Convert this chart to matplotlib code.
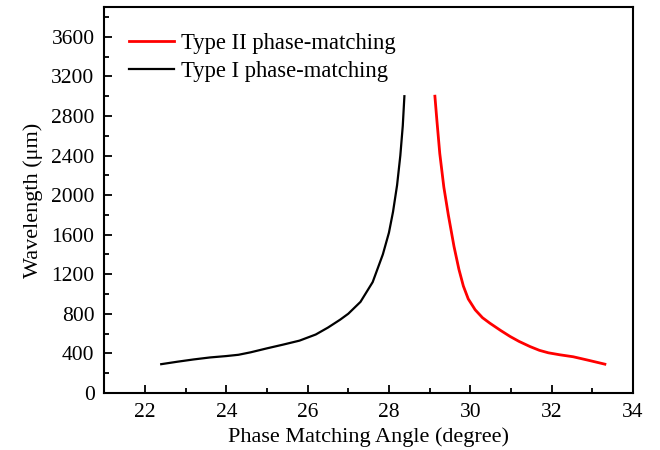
import matplotlib
matplotlib.use("Agg")
import matplotlib.pyplot as plt
from matplotlib.ticker import MultipleLocator

type1_angle = [22.4, 22.8, 23.2, 23.6, 24.0, 24.3, 24.6, 25.0, 25.4, 25.8, 26.2, 26.5,
               26.8, 27.0, 27.3, 27.6, 27.85, 28.0, 28.1, 28.2, 28.28, 28.34, 28.38]
type1_wl = [290, 315, 338, 358, 372, 385, 410, 450, 488, 528, 590, 660,
            740, 800, 920, 1120, 1400, 1620, 1830, 2100, 2400, 2700, 3000]

type2_angle = [29.13, 29.18, 29.25, 29.35, 29.46, 29.6, 29.72, 29.83, 29.95, 30.12, 30.3,
               30.48, 30.75, 30.98, 31.2, 31.47, 31.7, 31.92, 32.2, 32.53, 32.9, 33.31]
type2_wl = [3000, 2750, 2420, 2080, 1800, 1480, 1250, 1080, 950, 840, 760,
            705, 630, 570, 520, 468, 430, 405, 385, 365, 330, 290]

plt.rcParams['font.family'] = ['Liberation Serif', 'DejaVu Serif']

fig = plt.figure(figsize=(6.6, 4.5), dpi=100)
ax = fig.add_axes([0.158, 0.127, 0.801, 0.857])

ax.plot(type2_angle, type2_wl, color='#ff0000', lw=2.0, label='Type II phase-matching')
ax.plot(type1_angle, type1_wl, color='black', lw=1.6, label='Type I phase-matching')

ax.set_xlim(21, 34)
ax.set_ylim(0, 3900)
ax.xaxis.set_major_locator(MultipleLocator(2))
ax.xaxis.set_minor_locator(MultipleLocator(1))
ax.yaxis.set_major_locator(MultipleLocator(400))
ax.yaxis.set_minor_locator(MultipleLocator(200))
ax.tick_params(which='both', direction='in', labelsize=15.5, width=1.3)
ax.tick_params(axis='x', which='both', pad=7)
ax.tick_params(axis='y', which='both', pad=7)
ax.tick_params(which='major', length=6)
ax.tick_params(which='minor', length=3.5)
for s in ax.spines.values():
    s.set_linewidth(1.5)

ax.set_xlabel('Phase Matching Angle (degree)', fontsize=16, labelpad=4)
ax.set_ylabel('Wavelength (\u03bcm)', fontsize=16, labelpad=6)

ax.legend(loc='upper left', bbox_to_anchor=(0.029, 0.956), frameon=False,
          fontsize=16.3, handlelength=2.0, handletextpad=0.3, labelspacing=0.28,
          borderaxespad=0, borderpad=0.4)

fig.savefig('out.png', dpi=100)
